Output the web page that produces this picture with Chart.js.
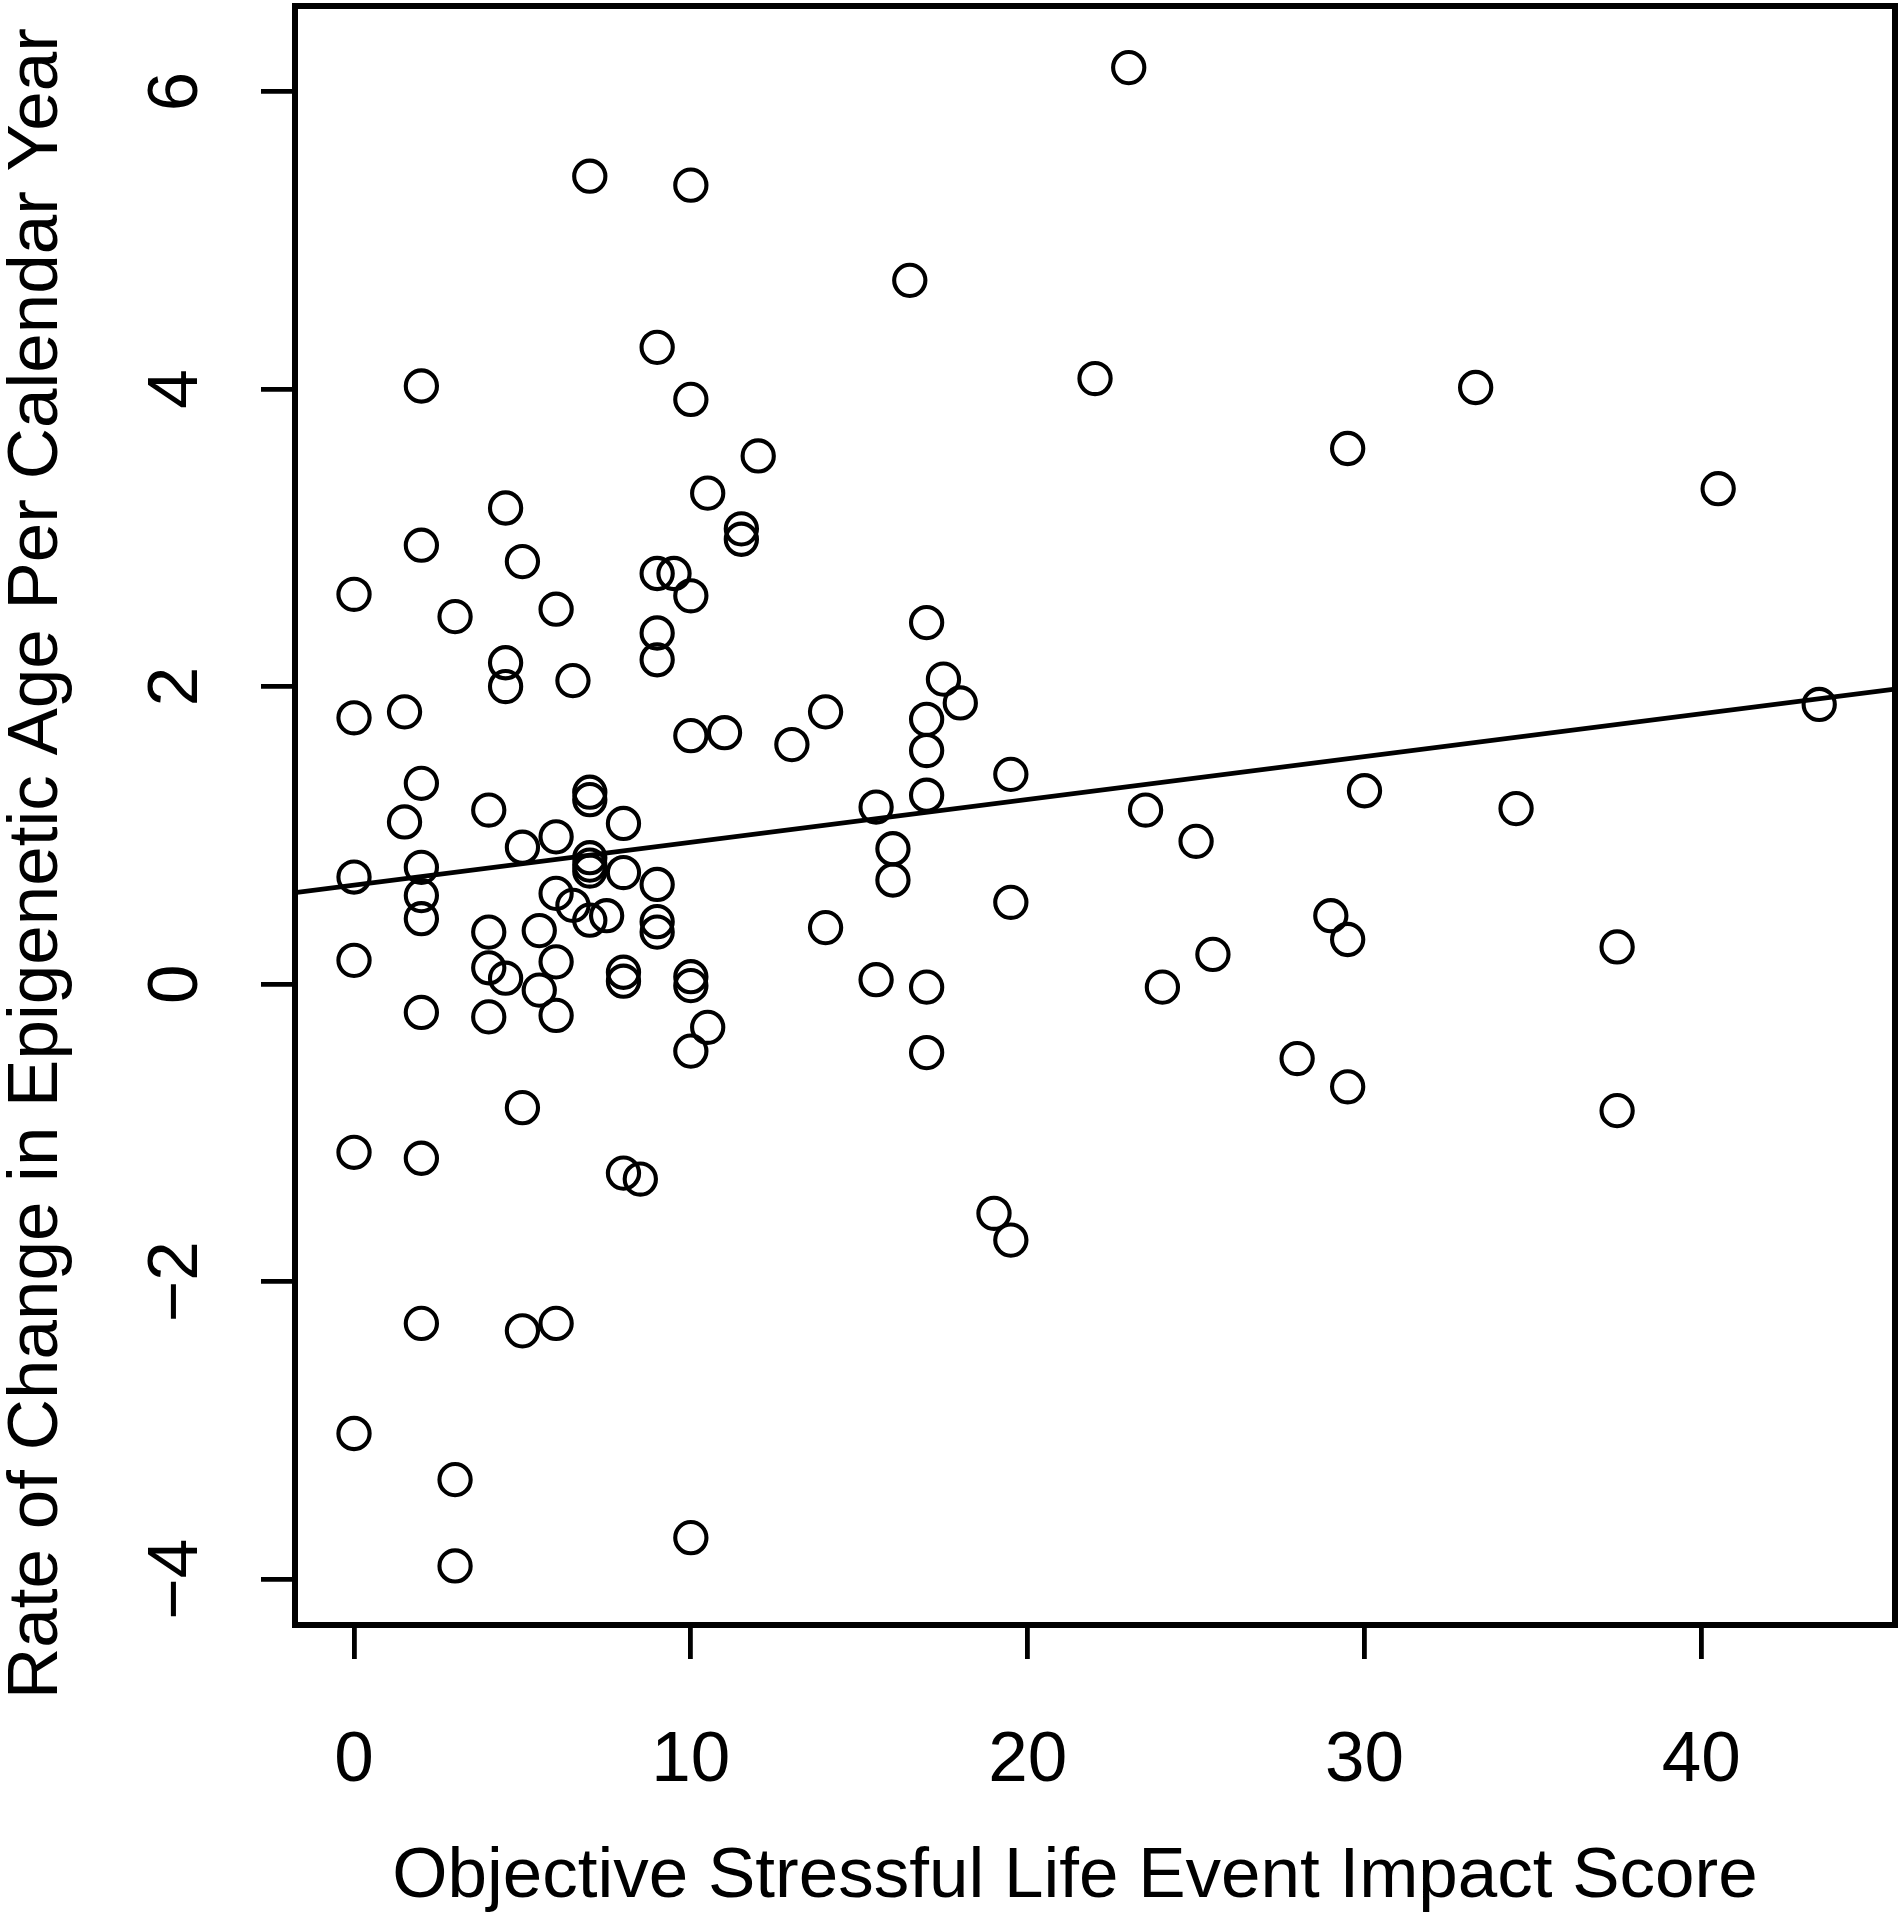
<!DOCTYPE html>
<html>
<head>
<meta charset="utf-8">
<script src="https://cdn.jsdelivr.net/npm/chart.js@4"></script>
<style>
html,body{margin:0;padding:0;background:#ffffff;}
canvas{display:block;}
</style>
</head>
<body>
<canvas id="chart" width="1901" height="1920"></canvas>
<script>
// ---- data ----
const impactScore = [
  0, 0, 0, 0, 0, 0,
  1.5, 1.5,
  2, 2, 2, 2, 2, 2, 2, 2, 2,
  3, 3, 3,
  4, 4, 4, 4,
  4.5, 4.5, 4.5, 4.5,
  5, 5, 5, 5,
  5.5, 5.5,
  6, 6, 6, 6, 6, 6,
  6.5, 6.5,
  7, 7, 7, 7, 7, 7, 7,
  7.5,
  8, 8, 8, 8, 8,
  8.5,
  9, 9, 9, 9, 9, 9, 9,
  9.5,
  10, 10, 10, 10, 10, 10, 10, 10,
  10.5, 10.5,
  11,
  11.5, 11.5,
  12, 13, 14, 14,
  15.5, 15.5,
  16, 16,
  16.5,
  17, 17, 17, 17, 17, 17,
  17.5, 18, 19,
  19.5, 19.5, 19.5,
  22, 23, 23.5, 24, 25, 25.5, 28, 29,
  29.5, 29.5, 29.5,
  30, 33.3, 34.5,
  37.5, 37.5,
  40.5, 43.5
];
const epigeneticRate = [
  2.62, 1.79, 0.72, 0.16, -1.13, -3.02,
  1.83, 1.09,
  4.02, 2.95, 1.35, 0.785, 0.595, 0.44, -0.19, -1.17, -2.28,
  2.47, -3.33, -3.91,
  1.17, 0.35, 0.11, -0.22,
  3.2, 2.16, 2.0, 0.04,
  2.84, 0.92, -0.83, -2.33,
  0.36, -0.04,
  2.52, 0.99, 0.61, 0.15, -0.21, -2.28,
  2.04, 0.53,
  5.43, 1.29, 1.24, 0.85, 0.80, 0.76, 0.43,
  0.46,
  1.08, 0.75, 0.08, 0.02, -1.27,
  -1.31,
  4.28, 2.76, 2.36, 2.18, 0.67, 0.42, 0.35,
  2.76,
  5.37, 3.93, 2.61, 1.67, 0.05, -0.01, -0.45, -3.72,
  3.3, -0.29,
  1.69,
  3.06, 2.99,
  3.55, 1.61, 1.83, 0.38,
  1.19, 0.03,
  0.91, 0.70,
  4.73,
  2.43, 1.78, 1.57, 1.27, -0.02, -0.46,
  2.05, 1.89, -1.54,
  1.41, 0.55, -1.72,
  4.07, 6.16, 1.17, -0.02, 0.96, 0.2, -0.5, 0.46,
  3.6, 0.3, -0.69,
  1.3, 4.01, 1.18,
  0.25, -0.85,
  3.33, 1.88
];
const xTickValues = [0, 10, 20, 30, 40];
const yTickValues = [-4, -2, 0, 2, 4, 6];
const xLimits = [-1.752, 45.75];
const yLimits = [-4.307, 6.574];
const fitIntercept = 0.665;
const fitSlope = 0.0288;
const xTitle = "Objective Stressful Life Event Impact Score";
const yTitle = "Rate of Change in Epigenetic Age Per Calendar Year";

// ---- build chart ----
const points = impactScore.map((x, i) => ({ x: x, y: epigeneticRate[i] }));
const fitLine = xLimits.map(x => ({ x: x, y: fitIntercept + fitSlope * x }));

const FONT = '"Liberation Sans", Arial, Helvetica, sans-serif';
const FONT_SIZE = 71;

// frame around the plotting region plus the two axis titles
const framePlugin = {
  id: 'plotFrame',
  afterDraw(chart) {
    const { ctx, chartArea: a } = chart;
    ctx.save();
    ctx.strokeStyle = '#000';
    ctx.lineWidth = 6;
    ctx.strokeRect(a.left, a.top, a.right - a.left, a.bottom - a.top);

    ctx.fillStyle = '#000';
    ctx.font = FONT_SIZE + 'px ' + FONT;
    ctx.textAlign = 'center';
    ctx.textBaseline = 'middle';
    // x-axis title
    ctx.fillText(xTitle, (a.left + a.right) / 2 - 20, chart.height - 43);
    // y-axis title (reads bottom to top)
    ctx.translate(37, (a.top + a.bottom) / 2 + 48);
    ctx.rotate(-Math.PI / 2);
    ctx.fillText(yTitle, 0, 0);
    ctx.restore();
  }
};

new Chart(document.getElementById('chart'), {
  type: 'scatter',
  data: {
    datasets: [
      {
        type: 'line',
        data: fitLine,
        borderColor: '#000',
        borderWidth: 4.8,
        pointRadius: 0,
        fill: false,
        tension: 0
      },
      {
        type: 'scatter',
        data: points,
        pointStyle: 'circle',
        pointRadius: 15.6,
        pointHoverRadius: 15.6,
        borderWidth: 4.1,
        borderColor: '#000',
        backgroundColor: 'rgba(0,0,0,0)'
      }
    ]
  },
  options: {
    responsive: false,
    animation: false,
    devicePixelRatio: 1,
    events: [],
    layout: { autoPadding: false, padding: { top: 6, right: 6, left: 0, bottom: 0 } },
    plugins: {
      legend: { display: false },
      tooltip: { enabled: false },
      title: { display: false }
    },
    scales: {
      x: {
        type: 'linear',
        position: 'bottom',
        min: xLimits[0],
        max: xLimits[1],
        afterBuildTicks: s => { s.ticks = xTickValues.map(v => ({ value: v })); },
        afterFit: s => { s.height = 295; s.paddingLeft = 0; s.paddingRight = 0; },
        border: { display: false },
        grid: {
          display: true, drawOnChartArea: false, drawTicks: true,
          tickLength: 34, tickWidth: 4.8, tickColor: '#000', color: '#000', lineWidth: 4.8
        },
        ticks: {
          autoSkip: false, maxRotation: 0, minRotation: 0,
          padding: 60, color: '#000',
          font: { family: FONT, size: FONT_SIZE },
          callback: v => String(v)
        },
        title: { display: false, text: xTitle }
      },
      y: {
        type: 'linear',
        position: 'left',
        min: yLimits[0],
        max: yLimits[1],
        afterBuildTicks: s => { s.ticks = yTickValues.map(v => ({ value: v })); },
        afterFit: s => { s.width = 295; s.paddingTop = 0; s.paddingBottom = 0; },
        border: { display: false },
        grid: {
          display: true, drawOnChartArea: false, drawTicks: true,
          tickLength: 34, tickWidth: 4.8, tickColor: '#000', color: '#000', lineWidth: 4.8
        },
        ticks: {
          autoSkip: false, minRotation: 90, maxRotation: 90,
          crossAlign: 'center',
          padding: 43, color: '#000',
          font: { family: FONT, size: FONT_SIZE },
          callback: v => (v < 0 ? '\u2212' + Math.abs(v) : String(v))
        },
        title: { display: false, text: yTitle }
      }
    }
  },
  plugins: [framePlugin]
});
</script>
</body>
</html>
